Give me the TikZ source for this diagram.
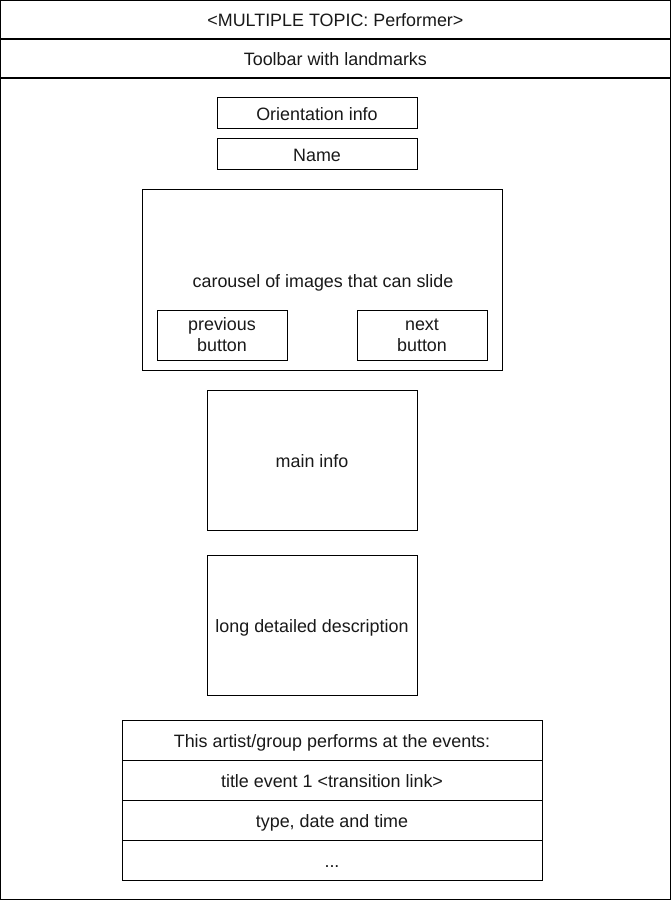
\documentclass[tikz,border=0pt]{standalone}
\usepackage{fontspec}
\setmainfont{Liberation Sans}
\begin{document}
\begin{tikzpicture}[x=1pt,y=-1pt,
  box/.style={draw=black,line width=1pt,rectangle,inner sep=0pt,outer sep=0pt,
    font=\fontsize{17.9}{21}\selectfont,text=black!90,align=center,
    text height=16.5pt,text depth=2.5pt},
  lbl/.style={inner sep=0pt,font=\fontsize{17.9}{21}\selectfont,text=black!90,align=center,
    text height=16.5pt,text depth=2.5pt},
  mlbl/.style={inner sep=0pt,font=\fontsize{17.9}{21}\selectfont,text=black!90,align=center}]
\useasboundingbox (0,0) rectangle (671,901);
\fill[white] (0,0) rectangle (671,901);
% frame
\node[box,line width=1.3pt,minimum width=669.5pt,minimum height=821.5pt,anchor=north west] (body) at (0.65,78) {};
\node[box,line width=1.3pt,minimum width=669.5pt,minimum height=39pt,anchor=north west] (toolbar) at (0.65,39) {Toolbar with landmarks};
\node[box,line width=1.3pt,minimum width=669.5pt,minimum height=38.5pt,anchor=north west] (header) at (0.65,0.65) {<MULTIPLE TOPIC: Performer>};
\draw[line width=2pt] (header.south west) -- (header.south east);
% boxes
\node[box,minimum width=200pt,minimum height=31pt] (orient) at (317,113.5) {Orientation info};
\node[box,minimum width=200pt,minimum height=31pt] (name) at (317,154.5) {Name};
\node[box,minimum width=360pt,minimum height=180pt] (carousel) at (322,280) {};
\node[lbl] (cartext) at (323,280) {carousel of images that can slide};
\node[box,minimum width=130pt,minimum height=50pt] (prev) at (222,335) {};
\node[mlbl] (prevtext) at (222,336.5) {\strut previous\\\strut button};
\node[box,minimum width=130pt,minimum height=50pt] (next) at (422,335) {};
\node[mlbl] (nexttext) at (422,336.5) {\strut next\\\strut button};
\node[box,minimum width=210pt,minimum height=140pt] (main) at (312,460) {main info};
\node[box,minimum width=210pt,minimum height=140pt] (desc) at (312,625) {long detailed description};
% table
\node[box,minimum width=420pt,minimum height=40pt] (r1) at (332,740) {This artist/group performs at the events:};
\node[box,minimum width=420pt,minimum height=40pt] (r2) at (332,780) {title event 1 <transition link>};
\node[box,minimum width=420pt,minimum height=40pt] (r3) at (332,820) {type, date and time};
\node[box,minimum width=420pt,minimum height=40pt] (r4) at (332,860) {...};
\end{tikzpicture}
\end{document}
